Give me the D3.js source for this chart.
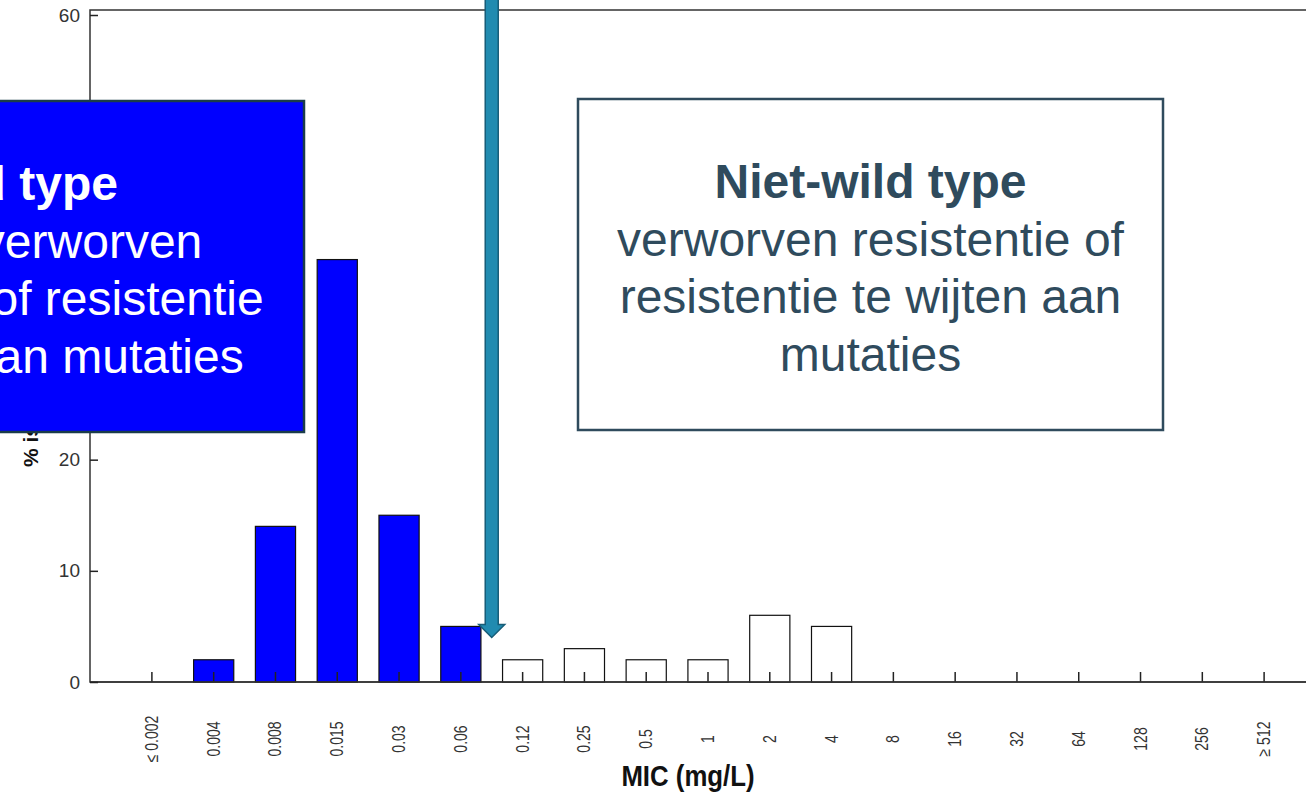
<!DOCTYPE html>
<html>
<head>
	<meta charset="utf-8">
	<title>MIC verdeling</title>
	<style>
		body { margin: 0; background: #fff; }
		svg { display: block; }
	</style>
</head>
<body>
	<svg width="1306" height="793"></svg>
<script src="https://cdn.jsdelivr.net/npm/d3@7"></script>
<script>
	//数据
	const mics = ["≤ 0.002", "0.004", "0.008", "0.015", "0.03", "0.06", "0.12", "0.25", "0.5", "1",
		"2", "4", "8", "16", "32", "64", "128", "256", "≥ 512"]
	const pct = [0, 2, 14, 38, 15, 5, 2, 3, 2, 2, 6, 5, 0, 0, 0, 0, 0, 0, 0]
	//wild type = t/m 0.06
	const wildType = ["≤ 0.002", "0.004", "0.008", "0.015", "0.03", "0.06"]
	const yTicks = [0, 10, 20, 30, 40, 50, 60]
	const leftText = ["Wild type", "zonder verworven", "resistentie of resistentie", "te wijten aan mutaties"]
	const rightText = ["Niet-wild type", "verworven resistentie of", "resistentie te wijten aan", "mutaties"]

	const svg = d3.select("svg")
	const font = "'Liberation Sans', Arial, sans-serif"

	//比例尺
	const x = d3.scaleBand().domain(mics).range([121, 1295]).paddingInner(0.35).paddingOuter(0.175)
	const y = d3.scaleLinear().domain([0, 60]).range([682, 15])

	//frame
	svg.append("rect")
		.attr("x", 90).attr("y", 10).attr("width", 1300).attr("height", 672)
		.attr("fill", "none").attr("stroke", "#333").attr("stroke-width", 1.5)

	//bars
	svg.append("g").selectAll("rect").data(mics).enter().append("rect")
		.attr("x", d => x(d)).attr("width", x.bandwidth())
		.attr("y", (d, i) => y(pct[i])).attr("height", (d, i) => y(0) - y(pct[i]))
		.attr("fill", d => wildType.includes(d) ? "#0000ff" : "#fff")
		.attr("stroke", "#111").attr("stroke-width", 1.2)

	//x axis, ticks inward
	const xAxis = svg.append("g").attr("transform", `translate(0,${y(0)})`)
		.call(d3.axisBottom(x).tickSize(-10).tickPadding(0))
	xAxis.select(".domain").remove()
	xAxis.selectAll(".tick line").attr("stroke", "#222").attr("stroke-width", 1.5)
	xAxis.selectAll(".tick text")
		.attr("transform", "translate(6,57) rotate(-90) scale(0.78,1)")
		.attr("text-anchor", "middle").attr("dy", 0).attr("y", 0)
		.attr("font-family", font).attr("font-size", 18).attr("fill", "#333")
	svg.append("line").attr("x1", 90).attr("x2", 1306).attr("y1", y(0)).attr("y2", y(0))
		.attr("stroke", "#333").attr("stroke-width", 1.5)

	//y axis
	const yAxis = svg.append("g").attr("transform", "translate(90,0)")
		.call(d3.axisLeft(y).tickValues(yTicks).tickSize(-8).tickPadding(10))
	yAxis.select(".domain").remove()
	yAxis.selectAll(".tick line").attr("stroke", "#222").attr("stroke-width", 1.5)
	yAxis.selectAll(".tick text").attr("font-family", font).attr("font-size", 19).attr("fill", "#333")

	//axis titles
	svg.append("text")
		.attr("transform", "translate(38,467) rotate(-90)")
		.attr("font-family", font).attr("font-weight", "bold").attr("font-size", 21).attr("fill", "#111")
		.text("%  isolaten")
	svg.append("text")
		.attr("transform", "translate(688,786) scale(0.86,1)")
		.attr("text-anchor", "middle")
		.attr("font-family", font)
		.attr("font-weight", "bold").attr("font-size", 30).attr("fill", "#111")
		.text("MIC (mg/L)")

	//text boxes
	function drawBox(bx, by, fill, stroke, color, lines) {
		const g = svg.append("g")
		g.append("rect").attr("x", bx).attr("y", by).attr("width", 585).attr("height", 331)
			.attr("fill", fill).attr("stroke", stroke).attr("stroke-width", 2.5)
		g.selectAll("text").data(lines).enter().append("text")
			.attr("x", bx + 292.5).attr("y", (d, i) => by + 99 + i * 57.5)
			.attr("text-anchor", "middle")
			.attr("font-family", font).attr("font-size", 48)
			.attr("font-weight", (d, i) => i == 0 ? "bold" : "normal")
			.attr("fill", color)
			.text(d => d)
	}
	drawBox(-281, 101, "#0000ff", "#1b3c4a", "#fff", leftText)
	drawBox(578, 99, "#fff", "#2f4b5d", "#2f4b5d", rightText)

	//arrow on the wild type cut-off
	const ax = (x("0.06") + x("0.12")) / 2 + x.bandwidth() / 2
	const tip = y(4)
	const arrow = d3.path()
	arrow.moveTo(ax - 6.5, -5)
	arrow.lineTo(ax + 6.5, -5)
	arrow.lineTo(ax + 6.5, tip - 13)
	arrow.lineTo(ax + 13, tip - 13)
	arrow.lineTo(ax, tip)
	arrow.lineTo(ax - 13, tip - 13)
	arrow.lineTo(ax - 6.5, tip - 13)
	arrow.closePath()
	svg.append("path").attr("d", arrow.toString())
		.attr("fill", "#218bb0").attr("stroke", "#175d78").attr("stroke-width", 1.5)
</script>
</body>
</html>
